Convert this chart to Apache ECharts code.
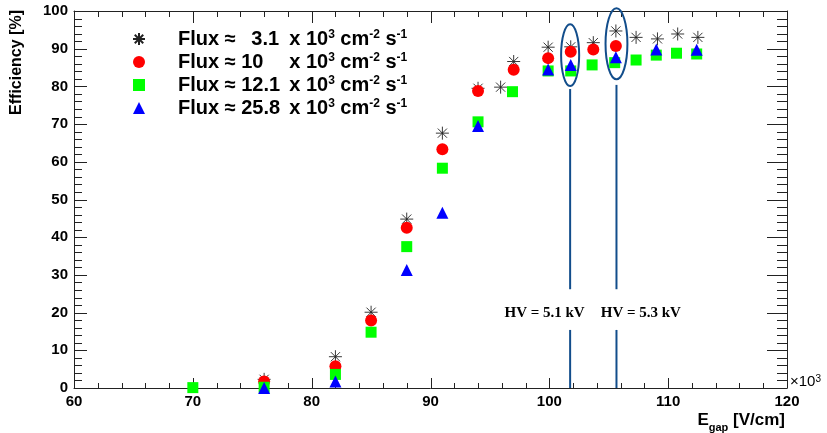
<!DOCTYPE html>
<html>
<head>
<meta charset="utf-8">
<script src="https://cdn.jsdelivr.net/npm/echarts@6/dist/echarts.min.js"></script>
<style>
  html, body { margin: 0; padding: 0; background: #fff; }
  #efficiency { width: 827px; height: 433px; }
</style>
</head>
<body>
<div id="efficiency"></div>
<script>
  // E_gap in units of 10^3 V/cm, efficiency in %
  const flux31X = [76, 82, 85, 88, 91, 94, 95.9, 97, 99.9, 101.8, 103.7, 105.6, 107.3, 109.1, 110.8, 112.5]
  const flux31Y = [2.3, 8.3, 20.1, 44.8, 67.6, 79.5, 79.8, 86.6, 90.4, 90.5, 91.6, 94.7, 93.0, 92.6, 93.9, 93.0]
  const flux10X = [76, 82, 85, 88, 91, 94, 97, 99.9, 101.8, 103.7, 105.6]
  const flux10Y = [1.7, 5.8, 17.9, 42.5, 63.3, 78.8, 84.4, 87.5, 89.2, 89.8, 90.7]
  const flux121X = [70, 76, 82, 85, 88, 91, 94, 96.9, 99.9, 101.8, 103.6, 105.5, 107.3, 109, 110.7, 112.4]
  const flux121Y = [0.1, 0.2, 3.6, 14.8, 37.5, 58.3, 70.6, 78.6, 84.1, 84.1, 85.7, 86.3, 87.0, 88.3, 88.8, 88.6]
  const flux258X = [76, 82, 88, 91, 94, 99.9, 101.8, 105.6, 109, 112.4]
  const flux258Y = [0, 1.7, 31.3, 46.5, 69.5, 84.5, 85.7, 87.7, 89.8, 89.7]

  const seriesNames = ['Flux 3.1', 'Flux 10', 'Flux 12.1', 'Flux 25.8']
  const fluxValues = ['3.1', '10', '12.1', '25.8']

  // axis ranges and tick values (major every 10, minor every 2)
  const xMin = 60, xMax = 120
  const yMin = 0, yMax = 100
  const xTicks = [60, 62, 64, 66, 68, 70, 72, 74, 76, 78, 80, 82, 84, 86, 88, 90, 92, 94, 96, 98, 100, 102, 104, 106, 108, 110, 112, 114, 116, 118, 120]
  const yTicks = [0, 2, 4, 6, 8, 10, 12, 14, 16, 18, 20, 22, 24, 26, 28, 30, 32, 34, 36, 38, 40, 42, 44, 46, 48, 50, 52, 54, 56, 58, 60, 62, 64, 66, 68, 70, 72, 74, 76, 78, 80, 82, 84, 86, 88, 90, 92, 94, 96, 98, 100]

  // HV annotations
  const hvX = [101.75, 105.65]
  const hvEllipseY = [88.3, 91.3]
  const hvEllipseRx = [0.76, 0.92]
  const hvEllipseRy = [8.2, 9.4]
  const hvLineTop = [79.3, 80.4]
  const hvGapTop = 26.2
  const hvGapBottom = 15.4
  const hvLabels = ['HV = 5.1 kV', 'HV = 5.3 kV']
  const hvLabelX = [99.6, 107.7]
  const hvLabelY = 19.9

  const SANS = 'Liberation Sans, Arial, sans-serif'
  const HV_BLUE = '#124d8b'
  const AXIS = '#222'

  function pairs(xs, ys) {
    return xs.map((x, i) => [x, ys[i]])
  }

  function crisp(v) {
    return Math.round(v) + 0.5
  }

  const asterisk = 'path://M0,6L12,6M6,0L6,12M1.76,1.76L10.24,10.24M10.24,1.76L1.76,10.24'

  function frameAxis(extra) {
    return Object.assign({
      type: 'value',
      splitLine: { show: false },
      axisLine: { show: true, onZero: false, lineStyle: { color: AXIS, width: 1 } },
      axisTick: { show: false },
      minorTick: { show: false }
    }, extra)
  }

  function tickLine(x1, y1, x2, y2) {
    return { type: 'line', shape: { x1: x1, y1: y1, x2: x2, y2: y2 }, style: { stroke: AXIS, lineWidth: 1 } }
  }

  const option = {
    animation: false,
    backgroundColor: '#fff',
    grid: { left: 74, right: 40, top: 11, bottom: 45 },
    legend: {
      data: seriesNames,
      orient: 'vertical',
      left: 127,
      top: 24,
      itemGap: 3,
      itemWidth: 12,
      itemHeight: 12,
      selectedMode: false,
      formatter: function (name) {
        const i = seriesNames.indexOf(name)
        const n = i === 0 ? 'nr' : 'nl'
        return '{t|Flux ≈ }{' + n + '|' + fluxValues[i] + '}{t|x 10}{s|3}{t| cm}{s|-2}{t| s}{s|-1}'
      },
      textStyle: {
        padding: [0, 0, 0, 28],
        rich: {
          t: { fontFamily: SANS, fontWeight: 'bold', fontSize: 20, lineHeight: 20, color: '#000' },
          nl: { fontFamily: SANS, fontWeight: 'bold', fontSize: 20, lineHeight: 20, color: '#000', width: 48, align: 'left' },
          nr: { fontFamily: SANS, fontWeight: 'bold', fontSize: 20, lineHeight: 20, color: '#000', width: 48, align: 'center' },
          s: { fontFamily: SANS, fontWeight: 'bold', fontSize: 12, lineHeight: 12, color: '#000', verticalAlign: 'top' }
        }
      }
    },
    xAxis: [
      frameAxis({
        min: xMin, max: xMax, interval: 10, position: 'bottom',
        axisLabel: { fontFamily: SANS, fontWeight: 'bold', fontSize: 15, color: '#000', margin: 6 },
        name: '{b|E}{sub|gap}{b| [V/cm]}',
        nameLocation: 'end',
        nameGap: -2,
        nameTextStyle: {
          align: 'right', verticalAlign: 'top', padding: [22, 0, 0, 0],
          rich: {
            b: { fontFamily: SANS, fontWeight: 'bold', fontSize: 17, color: '#000', lineHeight: 20 },
            sub: { fontFamily: SANS, fontWeight: 'bold', fontSize: 11, color: '#000', lineHeight: 11, verticalAlign: 'bottom', padding: [0, 0, -3, 0] }
          }
        }
      }),
      frameAxis({ min: xMin, max: xMax, interval: 10, position: 'top', axisLabel: { show: false } })
    ],
    yAxis: [
      frameAxis({
        min: yMin, max: yMax, interval: 10, position: 'left',
        axisLabel: { fontFamily: SANS, fontWeight: 'bold', fontSize: 15, color: '#000', margin: 6 }
      }),
      frameAxis({ min: yMin, max: yMax, interval: 10, position: 'right', axisLabel: { show: false } })
    ],
    graphic: [
      {
        type: 'text', x: 17, y: 10, rotation: Math.PI / 2,
        style: { text: 'Efficiency [%]', font: 'bold 16px ' + SANS, fill: '#000', align: 'right', verticalAlign: 'middle' }
      },
      {
        type: 'text', x: 790, y: 374,
        style: {
          text: '{a|×10}{s|3}',
          rich: {
            a: { fontFamily: SANS, fontSize: 15, lineHeight: 16, fill: '#000' },
            s: { fontFamily: SANS, fontSize: 10, lineHeight: 10, fill: '#000', verticalAlign: 'top' }
          }
        }
      }
    ],
    series: [
      {
        // ticks on the bottom and top frame, placed by the x scale
        type: 'custom', silent: true, z: 1,
        data: xTicks.map(v => [v, yMin]),
        renderItem: function (params, api) {
          const v = xTicks[params.dataIndex]
          const major = v % 10 === 0
          const b = api.coord([v, yMin])
          const t = api.coord([v, yMax])
          const x = crisp(b[0])
          return {
            type: 'group',
            children: [
              tickLine(x, b[1], x, b[1] - (major ? 10 : 5)),
              tickLine(x, t[1], x, t[1] + (major ? 12 : 6))
            ]
          }
        }
      },
      {
        // ticks on the left and right frame, placed by the y scale
        type: 'custom', silent: true, z: 1,
        data: yTicks.map(v => [xMin, v]),
        renderItem: function (params, api) {
          const v = yTicks[params.dataIndex]
          const major = v % 10 === 0
          const l = api.coord([xMin, v])
          const r = api.coord([xMax, v])
          const y = crisp(l[1])
          return {
            type: 'group',
            children: [
              tickLine(l[0], y, l[0] + (major ? 13 : 8), y),
              tickLine(r[0], y, r[0] - (major ? 20 : 10), y)
            ]
          }
        }
      },
      {
        name: seriesNames[0], type: 'scatter', data: pairs(flux31X, flux31Y),
        symbol: asterisk, symbolSize: 13,
        itemStyle: { color: '#000', borderColor: '#222', borderWidth: 0.9, opacity: 1 }
      },
      {
        name: seriesNames[1], type: 'scatter', data: pairs(flux10X, flux10Y),
        symbol: 'circle', symbolSize: 12,
        itemStyle: { color: '#ff0000', opacity: 1 }
      },
      {
        name: seriesNames[2], type: 'scatter', data: pairs(flux121X, flux121Y),
        symbol: 'rect', symbolSize: 11,
        itemStyle: { color: '#00ff00', opacity: 1 }
      },
      {
        name: seriesNames[3], type: 'scatter', data: pairs(flux258X, flux258Y),
        symbol: 'triangle', symbolSize: 12,
        itemStyle: { color: '#0000ff', opacity: 1 }
      },
      {
        type: 'custom', silent: true,
        data: hvX.map((x, i) => [x, hvEllipseY[i]]),
        renderItem: function (params, api) {
          const i = params.dataIndex
          const c = api.coord([hvX[i], hvEllipseY[i]])
          const r = api.size([hvEllipseRx[i], hvEllipseRy[i]])
          const p1 = api.coord([hvX[i], hvLineTop[i]])
          const p2 = api.coord([hvX[i], hvGapTop])
          const p3 = api.coord([hvX[i], hvGapBottom])
          const p4 = api.coord([hvX[i], 0])
          const lt = api.coord([hvLabelX[i], hvLabelY])
          const stroke = { stroke: HV_BLUE, lineWidth: 2, fill: 'none' }
          return {
            type: 'group',
            children: [
              { type: 'ellipse', shape: { cx: c[0], cy: c[1], rx: r[0], ry: r[1] }, style: stroke },
              { type: 'line', shape: { x1: p1[0], y1: p1[1], x2: p2[0], y2: p2[1] }, style: stroke },
              { type: 'line', shape: { x1: p3[0], y1: p3[1], x2: p4[0], y2: p4[1] }, style: stroke },
              {
                type: 'text', x: lt[0], y: lt[1],
                style: { text: hvLabels[i], font: 'bold 15px Liberation Serif, Times New Roman, serif', fill: '#000', align: 'center', verticalAlign: 'middle' }
              }
            ]
          }
        }
      }
    ]
  }

  const chart = echarts.init(document.getElementById('efficiency'))
  chart.setOption(option)
</script>
</body>
</html>
